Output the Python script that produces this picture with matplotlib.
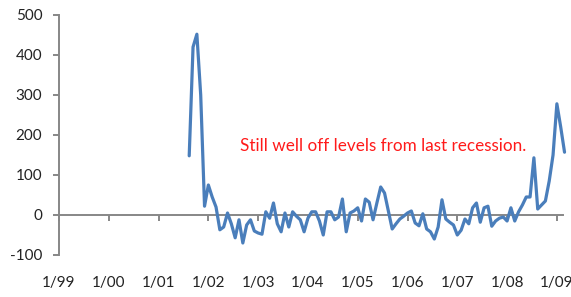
import numpy as np
import matplotlib
matplotlib.use("Agg")
import matplotlib.pyplot as plt
import matplotlib.transforms as mtransforms

# one value per 4-week period (13 per year), first value in period 34 after 1/99
periods_per_year = 13
start_period = 34
values = [148, 420, 452, 300, 22, 75, 45, 20, -37, -30,
          5, -22, -57, -12, -70, -25, -12, -40, -45, -48,
          8, -8, 30, -22, -42, 5, -30, 8, -3, -12,
          -42, -8, 8, 8, -15, -50, 8, 8, -12, -5,
          40, -42, 5, 10, 18, -15, 40, 32, -12, 30,
          70, 55, 10, -35, -22, -10, -3, 5, 10, -20,
          -27, 3, -35, -42, -60, -30, 38, -10, -18, -25,
          -50, -38, -10, -22, 18, 30, -18, 18, 22, -28,
          -15, -8, -5, -15, 18, -15, 8, 25, 45, 45,
          143, 15, 25, 35, 85, 150, 278, 220, 157]
year_labels = ["1/99", "1/00", "1/01", "1/02", "1/03", "1/04",
               "1/05", "1/06", "1/07", "1/08", "1/09"]
y_ticks = [-100, 0, 100, 200, 300, 400, 500]
note = "Still well off levels from last recession."

periods = np.arange(len(values)) + start_period
year_pos = np.arange(len(year_labels)) * periods_per_year

plt.rcParams["font.family"] = ["Lato", "DejaVu Sans"]
axis_grey = "#878787"

fig = plt.figure(figsize=(5.71, 2.97), dpi=100)
ax = fig.add_axes([59 / 571, 1 - 255 / 297, 504 / 571, 240 / 297])

ax.plot(periods, values, color="#4a7ebb", linewidth=2.3,
        solid_joinstyle="round", solid_capstyle="round", clip_on=False)

ax.set_xlim(0, 131.6)
ax.set_ylim(-100, 500)

# category axis sits on the zero line
for side in ["top", "right"]:
    ax.spines[side].set_visible(False)
ax.spines["bottom"].set_position(("data", 0))
ax.spines["bottom"].set_color(axis_grey)
ax.spines["bottom"].set_linewidth(1.4)
ax.spines["left"].set_color(axis_grey)
ax.spines["left"].set_linewidth(1.4)
ax.spines["bottom"].set_zorder(1)

ax.set_xticks(year_pos)
ax.tick_params(axis="x", direction="out", length=4, width=1.4,
               color=axis_grey, labelbottom=False)
ax.set_yticks(y_ticks)
ax.set_yticklabels([str(v) for v in y_ticks])
ax.tick_params(axis="y", direction="out", length=4, width=1.4,
               color=axis_grey, pad=8, labelsize=11, labelcolor="#222222")

# year labels below the plot area, under each tick
trans = mtransforms.blended_transform_factory(ax.transData, ax.transAxes)
for pos, lab in zip(year_pos, year_labels):
    ax.text(pos, -0.117, lab, transform=trans, ha="center",
            va="center", fontsize=11, color="#222222", clip_on=False)

ax.text(47.3, 173, note, color="#ff1a1a", fontsize=12.3,
        ha="left", va="center")

fig.savefig("out.png", dpi=100)
plt.close(fig)
